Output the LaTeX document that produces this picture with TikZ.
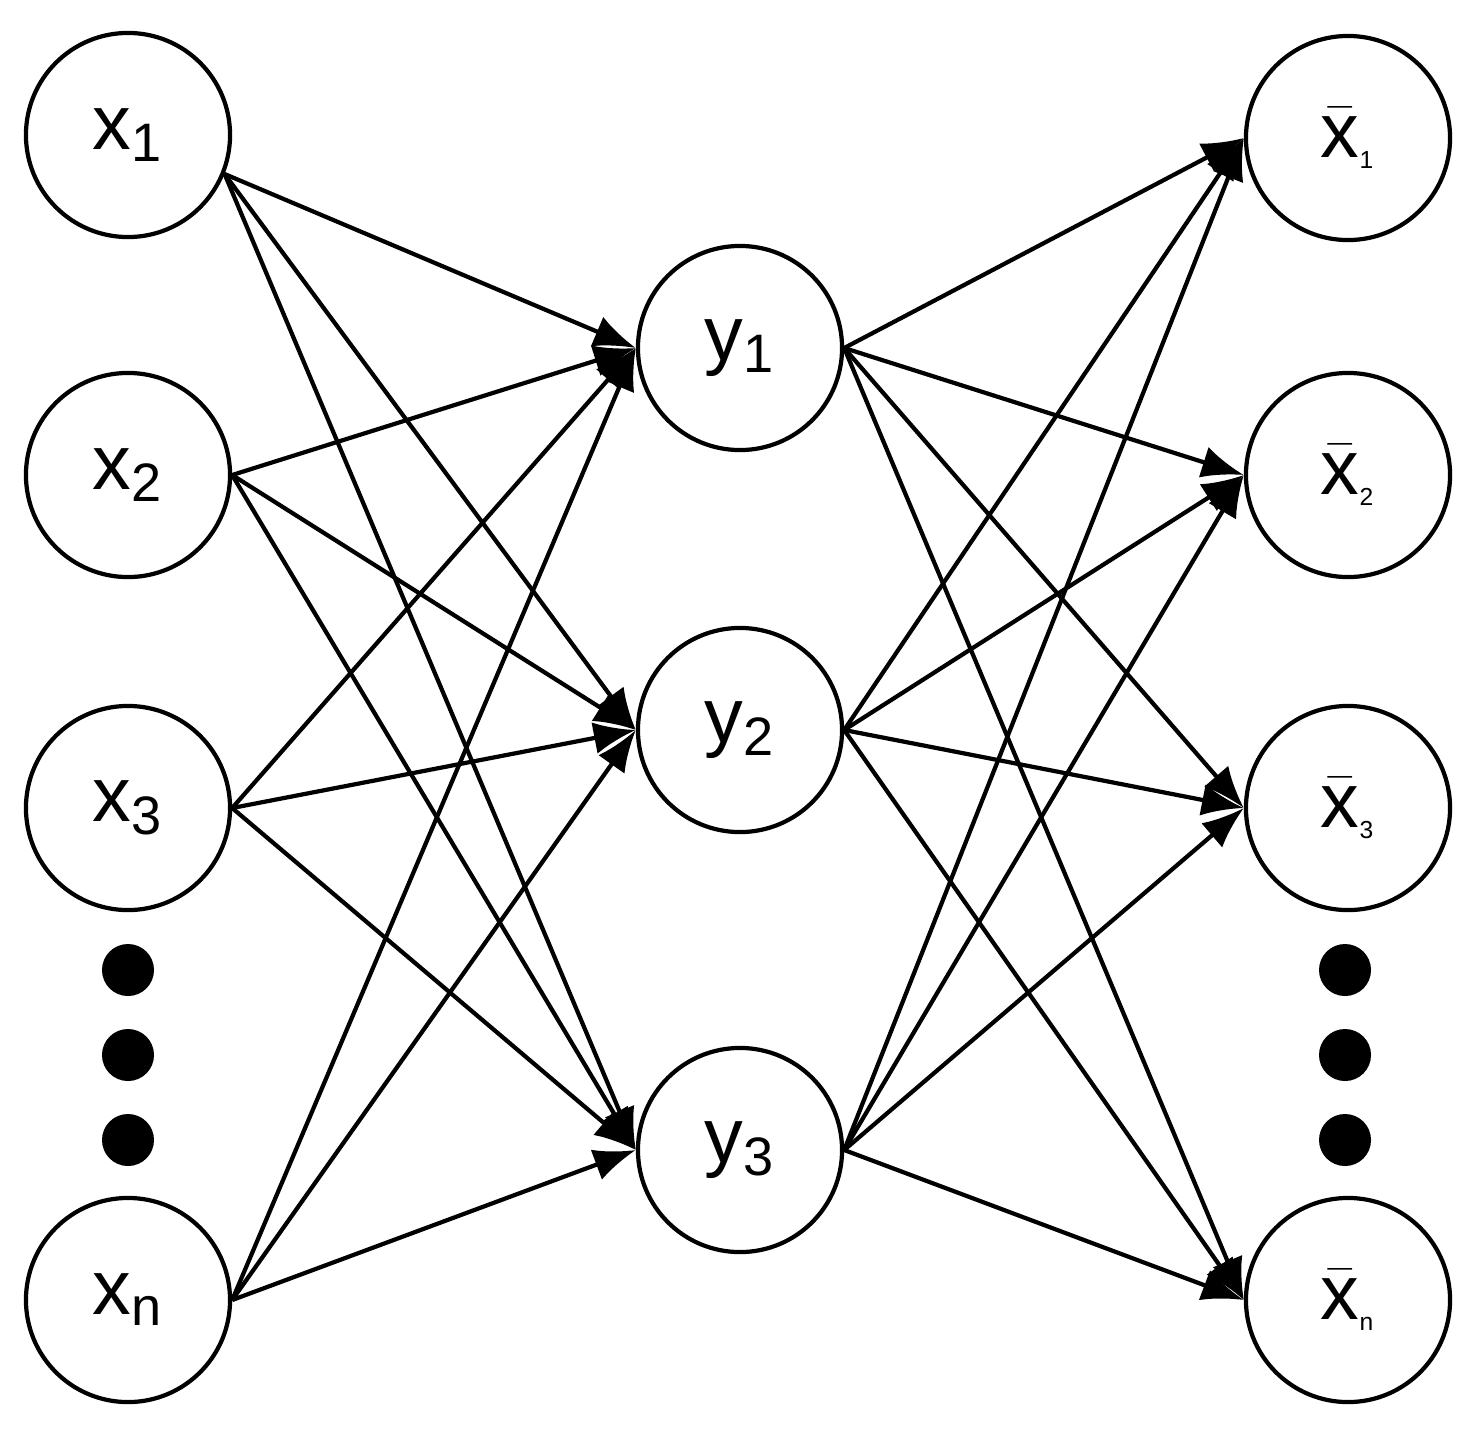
\documentclass[tikz,border=0pt]{standalone}
\usepackage{fontspec}
\setmainfont{Liberation Sans}
\usetikzlibrary{arrows.meta}
\begin{document}
\begin{tikzpicture}[x=0.01cm,y=-0.01cm,
  neuron/.style={circle,draw,line width=1.2pt,minimum size=2.04cm,inner sep=0pt,font=\fontsize{22}{26}\selectfont},
  dot/.style={circle,fill=black,minimum size=0.52cm,inner sep=0pt},
  edge/.style={line width=1.2pt,-{Latex[length=0.42cm,width=0.32cm]}}]
\useasboundingbox (0,0) rectangle (1476,1433);
\node[neuron] (x1) at (128,135) {x\textsubscript{1}};
\node[neuron] (x2) at (128,475) {x\textsubscript{2}};
\node[neuron] (x3) at (128,808) {x\textsubscript{3}};
\node[neuron] (xn) at (128,1300) {x\textsubscript{n}};
\node[neuron] (y1) at (740,348) {y\textsubscript{1}};
\node[neuron] (y2) at (740,730) {y\textsubscript{2}};
\node[neuron] (y3) at (740,1150) {y\textsubscript{3}};
\node[neuron] (r1) at (1348,138) {$\bar{\mathrm{x}}$\textsubscript{\scriptsize 1}};
\node[neuron] (r2) at (1348,475) {$\bar{\mathrm{x}}$\textsubscript{\scriptsize 2}};
\node[neuron] (r3) at (1348,808) {$\bar{\mathrm{x}}$\textsubscript{\scriptsize 3}};
\node[neuron] (rn) at (1348,1300) {$\bar{\mathrm{x}}$\textsubscript{\scriptsize n}};
\foreach \i/\yy in {a/970,b/1055,c/1140}{
  \node[dot] (ld\i) at (128,\yy) {};
  \node[dot] (rd\i) at (1345,\yy) {};
}
\foreach \s/\a in {x1/-22,x2/0,x3/0,xn/0}
  \foreach \t in {y1,y2,y3}
    \draw[edge] (\s.\a) -- (\t.west);
\foreach \s in {y1,y2,y3}
  \foreach \t in {r1,r2,r3,rn}
    \draw[edge] (\s.east) -- (\t.west);
\end{tikzpicture}
\end{document}
